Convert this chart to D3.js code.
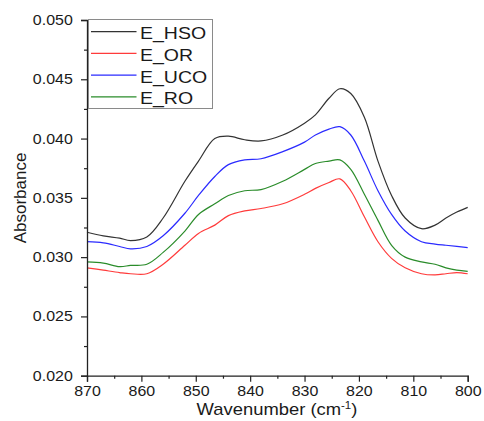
<!DOCTYPE html>
<html><head><meta charset="utf-8">
<script src="https://cdn.jsdelivr.net/npm/d3@7"></script>
<style>body{margin:0;background:#fff}svg{display:block}text{font-family:"Liberation Sans",Arial,sans-serif;fill:#1a1a1a}</style>
</head><body><svg id="c" width="484" height="421"></svg>
<script>
const wavenumbers = [870,867,864,862,859,856,852,849.5,846.5,844,841,838,834,830,828,825.5,823.5,821.5,819,816.5,814,811.5,808.5,806,804,802,800];
const seriesNames = ["E_HSO","E_OR","E_UCO","E_RO"];
const seriesColors = ["#333333","#ff3b3b","#2b2bff","#2a8c2a"];
const hso = [0.0321,0.0318,0.0316,0.0314,0.0317,0.0333,0.0364,0.0381,0.0400,0.0402,0.0399,0.0398,0.0403,0.0413,0.0420,0.0434,0.0442,0.0438,0.0418,0.0381,0.0352,0.0333,0.0324,0.0327,0.0333,0.0338,0.0342];
const or  = [0.0291,0.0289,0.0287,0.0286,0.0286,0.0294,0.0310,0.0320,0.0327,0.0335,0.0339,0.0341,0.0345,0.0353,0.0358,0.0363,0.0366,0.0356,0.0334,0.0313,0.0299,0.0291,0.0286,0.0285,0.0286,0.0287,0.0286];
const uco = [0.0313,0.0312,0.0309,0.0307,0.0309,0.0318,0.0337,0.0352,0.0368,0.0378,0.0382,0.0383,0.0389,0.0397,0.0403,0.0408,0.0410,0.0403,0.0381,0.0356,0.0336,0.0322,0.0313,0.0311,0.0310,0.0309,0.0308];
const ro  = [0.0296,0.0295,0.0292,0.0293,0.0294,0.0304,0.0322,0.0336,0.0345,0.0352,0.0356,0.0357,0.0364,0.0374,0.0379,0.0381,0.0382,0.0374,0.0353,0.0331,0.0310,0.0300,0.0296,0.0294,0.0291,0.0289,0.0288];
const xTicks = [870,860,850,840,830,820,810,800];
const yTicks = [0.020,0.025,0.030,0.035,0.040,0.045,0.050];
const xLabel = "Wavenumber (cm";
const yLabel = "Absorbance";

const svg = d3.select("#c");
const L=87, R=467.7, T=20, B=375.7;
const x = d3.scaleLinear().domain([870,800]).range([L,R]);
const y = d3.scaleLinear().domain([0.020,0.050]).range([B,T]);
const SX = 1.14;

const allSeries = [hso, or, uco, ro];
const line = d3.line().x((d,i)=>x(wavenumbers[i])).y(d=>y(d)).curve(d3.curveCatmullRom.alpha(0.5));
allSeries.forEach((s,k)=>{
  svg.append("path").attr("d",line(s)).attr("fill","none")
    .attr("stroke",seriesColors[k]).attr("stroke-width",1.2);
});

const axisColor="#222";
svg.append("g").attr("class","xa").attr("transform",`translate(0,${B})`)
  .call(d3.axisBottom(x).tickValues(xTicks).tickFormat(d3.format("d")).tickSizeOuter(0).tickSize(6).tickPadding(4.5));
svg.append("g").attr("transform",`translate(0,${B})`)
  .call(d3.axisBottom(x).tickValues(d3.range(865,800,-10)).tickFormat("").tickSize(3).tickSizeOuter(0))
  .select(".domain").remove();
svg.append("g").attr("class","ya").attr("transform",`translate(${L},0)`)
  .call(d3.axisLeft(y).tickValues(yTicks).tickFormat(d3.format(".3f")).tickSizeOuter(0).tickSize(6).tickPadding(6.5));
svg.append("g").attr("transform",`translate(${L},0)`)
  .call(d3.axisLeft(y).tickValues(d3.range(0.0225,0.050,0.005)).tickFormat("").tickSize(3).tickSizeOuter(0))
  .select(".domain").remove();
svg.selectAll(".domain").attr("stroke",axisColor).attr("stroke-width",1.3);
svg.selectAll(".tick line").attr("stroke",axisColor).attr("stroke-width",1.2);
svg.selectAll(".tick text").attr("font-size",14).attr("fill","#1a1a1a")
  .attr("font-family","Liberation Sans, Arial, sans-serif")
  .attr("transform",`scale(${SX},1)`);

// axis titles
const xt = svg.append("text").attr("transform",`translate(277,415) scale(1.15,1)`).attr("text-anchor","middle").attr("font-size",16);
xt.append("tspan").text(xLabel);
xt.append("tspan").text("-1").attr("font-size",10).attr("dy",-6);
xt.append("tspan").text(")").attr("dy",6);
svg.append("text").attr("transform","translate(26,198) rotate(-90)").attr("text-anchor","middle").attr("font-size",17).text(yLabel);

// legend
svg.append("rect").attr("x",88.5).attr("y",19.5).attr("width",124).attr("height",89).attr("fill","#fff").attr("stroke","#8a8a8a").attr("stroke-width",1);
seriesNames.forEach((n,k)=>{
  const cy = 31.7 + k*21.7;
  svg.append("line").attr("x1",91).attr("x2",136.5).attr("y1",cy).attr("y2",cy).attr("stroke",seriesColors[k]).attr("stroke-width",1.2);
  svg.append("text").attr("transform",`translate(140,${cy+7.4}) scale(1.22,1)`).attr("font-size",16).text(n);
});
</script></body></html>
